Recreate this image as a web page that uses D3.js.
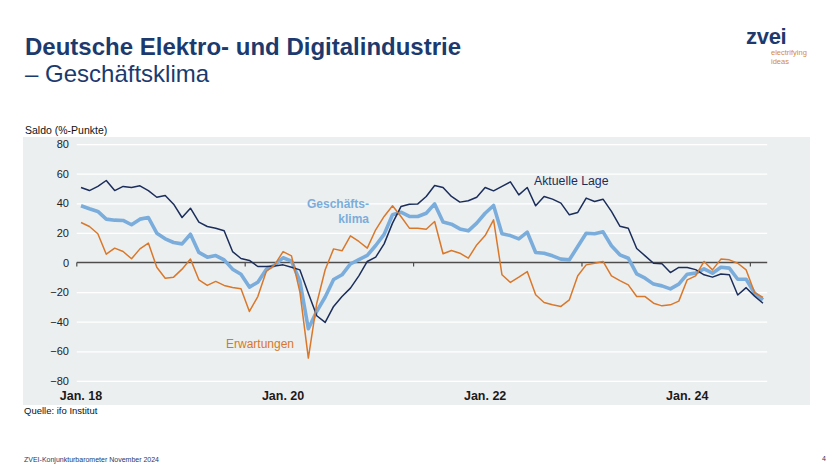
<!DOCTYPE html>
<html>
<head>
<meta charset="utf-8">
<script src="https://cdn.jsdelivr.net/npm/d3@7"></script>
<style>
  html, body { margin: 0; padding: 0; background: #ffffff; }
  svg { display: block; }
  text { font-family: "Liberation Sans", Arial, sans-serif; }
</style>
</head>
<body>
<svg id="chart" width="840" height="473"></svg>
<script>
// ---- Data (monthly, Jan 2018 – Oct 2024) ----
const startMonth = new Date(2018, 0, 1);
const endMonthExclusive = new Date(2024, 10, 1);

const aktuelleLage = [
  50.7, 48.6, 51.4, 55.4, 48.6, 51.4, 50.7, 51.8, 48.6, 44.1, 45.3, 39.4,
  30.4, 36.7, 27.3, 24.3, 23.2, 21.4, 7.4, 2.7, 1.4, -2.7, -2.7, -2.3,
  -1.6, -3.2, -5.0, -20.7, -36.0, -40.5, -29.7, -23.0, -17.3, -9.0, 0.7, 3.6,
  12.6, 26.6, 37.8, 39.4, 39.6, 44.6, 52.0, 50.7, 44.6, 40.8, 41.7, 44.1,
  50.7, 48.4, 51.4, 54.5, 45.7, 50.7, 38.3, 44.6, 42.8, 40.1, 32.2, 33.8,
  43.5, 41.2, 42.8, 34.5, 24.5, 23.2, 9.5, 4.5, -0.5, -0.9, -6.8, -3.3,
  -3.4, -4.8, -8.3, -9.9, -7.8, -8.3, -22.0, -17.0, -22.7, -27.5
];

const geschaeftsklima = [
  38.3, 36.3, 34.5, 29.3, 28.6, 28.4, 25.5, 29.3, 30.4, 19.8, 16.0, 13.5,
  12.6, 19.1, 6.8, 3.6, 4.7, 1.8, -4.5, -8.0, -16.6, -13.3, -4.7, -1.8,
  3.2, 0.9, -12.7, -44.8, -33.0, -23.3, -11.5, -8.3, -1.0, 2.0, 4.8, 11.5,
  19.0, 32.3, 34.0, 31.1, 31.1, 33.3, 39.6, 27.3, 25.9, 22.7, 21.4, 26.6,
  33.3, 38.5, 19.4, 18.2, 16.0, 20.5, 6.8, 6.3, 4.5, 2.3, 1.8, 10.8,
  19.8, 19.4, 20.7, 11.3, 5.2, 2.9, -7.7, -10.6, -14.6, -15.8, -17.8, -14.6,
  -7.9, -7.2, -4.3, -7.2, -3.2, -3.8, -11.3, -11.3, -20.7, -25.2
];

const erwartungen = [
  27.0, 24.3, 19.4, 5.6, 9.7, 7.4, 2.5, 9.2, 13.1, -3.2, -10.6, -9.9,
  -4.5, 2.3, -11.7, -15.5, -12.8, -15.5, -16.9, -17.8, -33.1, -23.0, -6.1, -1.6,
  7.4, 4.5, -20.0, -64.6, -27.5, -4.9, 9.2, 7.9, 18.0, 14.2, 9.7, 22.1,
  31.1, 38.3, 31.1, 23.2, 23.2, 22.5, 27.7, 5.9, 8.1, 6.3, 2.9, 11.9,
  18.2, 28.8, -8.3, -13.5, -9.9, -6.1, -21.8, -27.0, -28.6, -29.7, -25.2, -9.0,
  -1.6, -0.5, 0.7, -9.0, -12.2, -15.1, -23.0, -23.0, -27.5, -29.3, -28.6, -26.1,
  -11.7, -9.0, 0.7, -5.0, 2.3, 1.8, -0.5, -5.0, -20.3, -23.6
];

const yTicks = [-80, -60, -40, -20, 0, 20, 40, 60, 80];
const xLabelIndex = [0, 24, 48, 72];
const xLabels = ["Jan. 18", "Jan. 20", "Jan. 22", "Jan. 24"];
const xTickIndex = [0, 20, 40, 60, 80];

const months = d3.timeMonth.range(startMonth, endMonthExclusive);

// ---- Layout ----
const svg = d3.select("#chart");
const C = { dark: "#1b2d5b", blue: "#7aaddb", orange: "#d9782a", title: "#1c3a6e", grid: "#ffffff", panel: "#eceff0" };

const x = d3.scaleBand().domain(months).range([76.8, 767.2]).padding(0);
const y = d3.scaleLinear().domain([-80, 80]).range([380.9, 144.1]);
const cx = d => x(d) + x.bandwidth() / 2;

// Title
svg.append("text").attr("x", 25).attr("y", 55)
  .attr("font-size", 24).attr("font-weight", "bold").attr("fill", C.title)
  .text("Deutsche Elektro- und Digitalindustrie");
svg.append("text").attr("x", 25).attr("y", 82)
  .attr("font-size", 24).attr("fill", C.title)
  .text("– Geschäftsklima");

// Logo
svg.append("text").attr("x", 746).attr("y", 44)
  .attr("font-size", 22).attr("font-weight", "bold").attr("fill", C.title)
  .attr("letter-spacing", "-0.3")
  .text("zvei");
svg.append("text").attr("x", 771).attr("y", 55)
  .attr("font-size", 7.5).attr("fill", "#d98b2e").text("electrifying");
svg.append("text").attr("x", 771).attr("y", 63.5)
  .attr("font-size", 7.5).attr("fill", "#d98b2e").text("ideas");

// Axis caption
svg.append("text").attr("x", 25).attr("y", 134)
  .attr("font-size", 10.5).attr("fill", "#111").text("Saldo (%-Punkte)");

// Panel
svg.append("rect").attr("x", 23).attr("y", 137).attr("width", 787).attr("height", 268)
  .attr("fill", C.panel);

// Gridlines
const gridG = svg.append("g").attr("transform", "translate(76.8,0)")
  .call(d3.axisLeft(y).tickValues(yTicks.filter(t => t !== 0)).tickSize(-(767.2 - 76.8)).tickFormat(""));
gridG.select(".domain").remove();
gridG.selectAll("line").attr("stroke", C.grid).attr("stroke-width", 1.3);

// Y labels
const yAx = svg.append("g").attr("transform", "translate(77,0)")
  .call(d3.axisLeft(y).tickValues(yTicks).tickSize(0).tickPadding(8));
yAx.select(".domain").remove();
yAx.selectAll("text").attr("font-size", 11).attr("fill", "#222")
  .attr("font-family", "Liberation Sans, Arial, sans-serif");

// Zero line with ticks
svg.append("line").attr("x1", 76.8).attr("x2", 767.2).attr("y1", y(0)).attr("y2", y(0))
  .attr("stroke", "#4d4d4d").attr("stroke-width", 1.3);
const xTickG = svg.append("g").attr("transform", `translate(${-x.bandwidth() / 2},${y(0)})`)
  .call(d3.axisBottom(x).tickValues(xTickIndex.map(i => months[i])).tickSize(4).tickFormat(""));
xTickG.select(".domain").remove();
xTickG.selectAll("line").attr("stroke", "#4d4d4d").attr("stroke-width", 1.2);

// X labels
svg.append("g").selectAll("text").data(xLabelIndex).join("text")
  .attr("x", i => cx(months[i])).attr("y", 400)
  .attr("text-anchor", "middle").attr("font-size", 12.5).attr("font-weight", "bold")
  .attr("fill", "#1a1a1a")
  .text((i, k) => xLabels[k]);

// Lines
const line = d3.line().x((v, i) => cx(months[i])).y(v => y(v));
svg.append("path").datum(geschaeftsklima).attr("d", line)
  .attr("fill", "none").attr("stroke", C.blue).attr("stroke-width", 3.6).attr("stroke-linejoin", "round");
svg.append("path").datum(aktuelleLage).attr("d", line)
  .attr("fill", "none").attr("stroke", C.dark).attr("stroke-width", 1.5).attr("stroke-linejoin", "round");
svg.append("path").datum(erwartungen).attr("d", line)
  .attr("fill", "none").attr("stroke", C.orange).attr("stroke-width", 1.5).attr("stroke-linejoin", "round");

// Series labels
svg.append("text").attr("x", 534).attr("y", 185).attr("font-size", 12.3).attr("fill", C.dark).text("Aktuelle Lage");
svg.append("text").attr("x", 369).attr("y", 208).attr("text-anchor", "end").attr("font-size", 12)
  .attr("font-weight", "bold").attr("fill", C.blue).text("Geschäfts-");
svg.append("text").attr("x", 369).attr("y", 223).attr("text-anchor", "end").attr("font-size", 12)
  .attr("font-weight", "bold").attr("fill", C.blue).text("klima");
svg.append("text").attr("x", 226).attr("y", 348).attr("font-size", 12).attr("fill", C.orange).text("Erwartungen");

// Source & footer
svg.append("text").attr("x", 24).attr("y", 414)
  .attr("font-size", 9.5).attr("fill", "#111")
  .attr("font-family", "Liberation Sans Narrow, Liberation Sans, Arial, sans-serif")
  .text("Quelle: ifo Institut");
svg.append("text").attr("x", 24).attr("y", 462)
  .attr("font-size", 7).attr("fill", "#1c3a6e")
  .attr("font-family", "Liberation Sans Narrow, Liberation Sans, Arial, sans-serif")
  .text("ZVEI-Konjunkturbarometer November 2024");
svg.append("text").attr("x", 822).attr("y", 461)
  .attr("font-size", 7).attr("fill", "#1c3a6e").text("4");
</script>
</body>
</html>
